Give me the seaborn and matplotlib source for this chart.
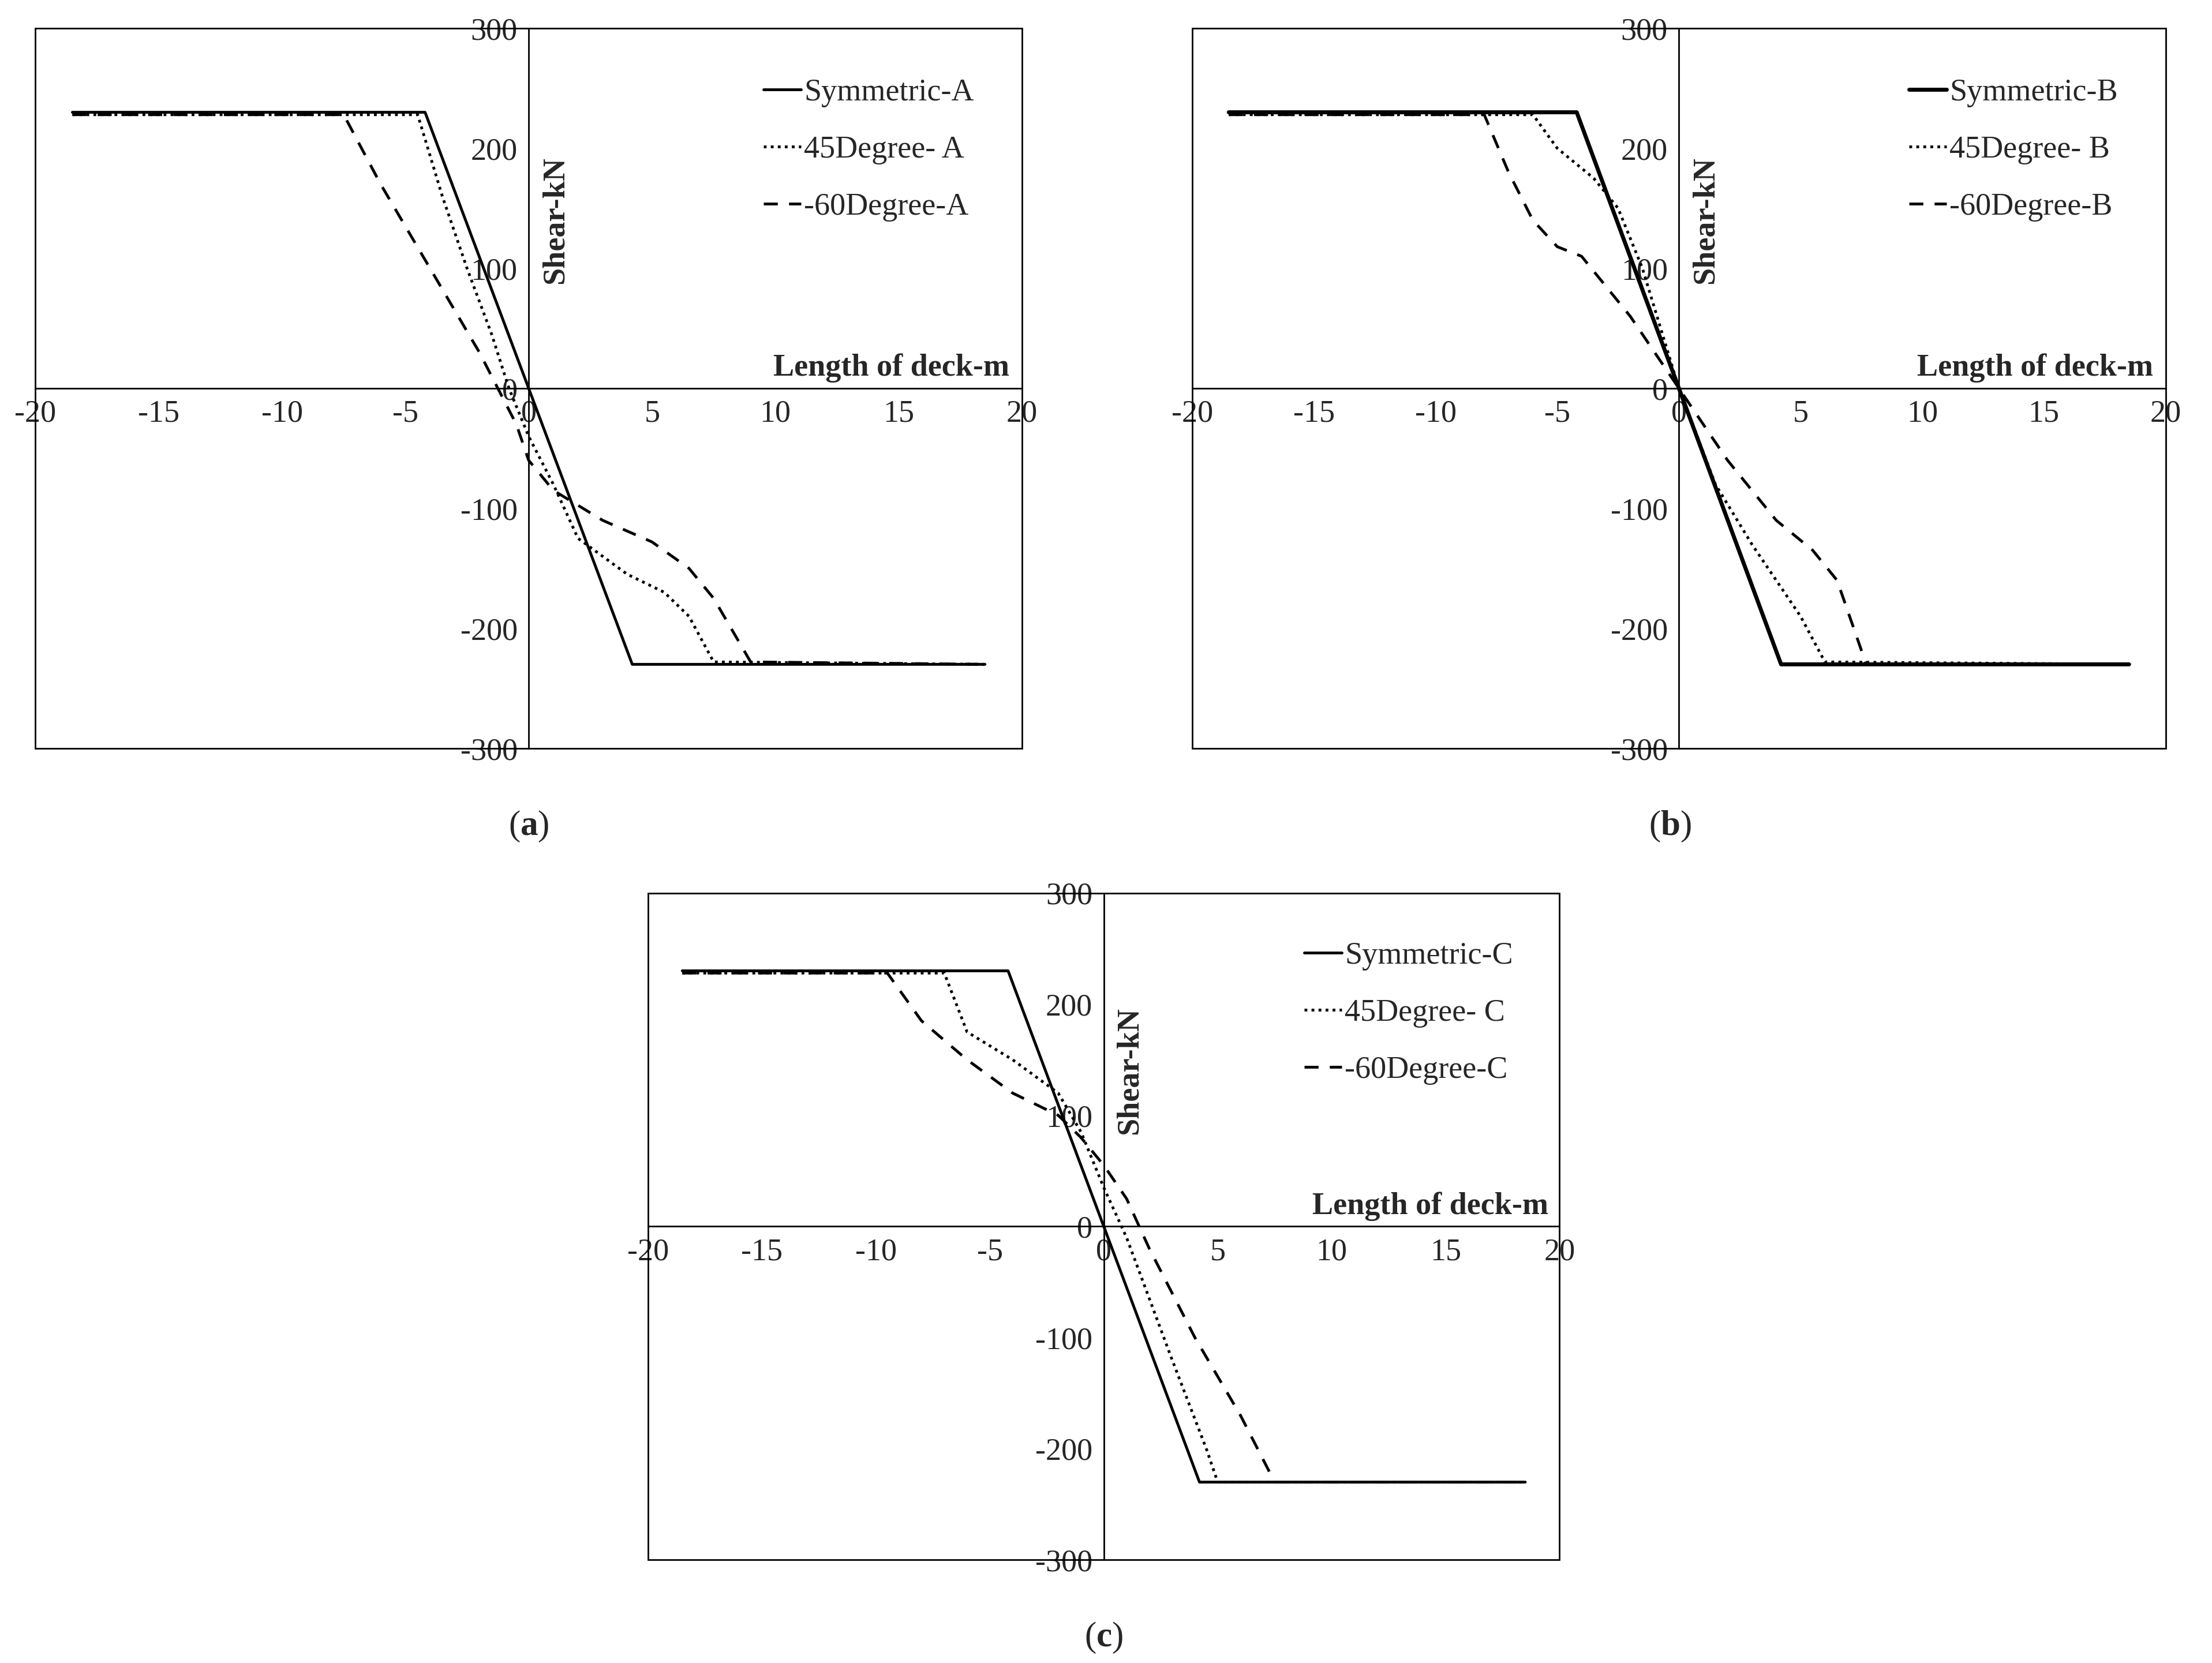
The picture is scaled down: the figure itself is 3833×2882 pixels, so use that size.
import pandas as pd
import matplotlib
matplotlib.use("Agg")
import matplotlib.pyplot as plt
import seaborn as sns
from matplotlib.patches import Rectangle

sns.set_style("white")
plt.rcParams["font.family"] = ["Liberation Serif", "DejaVu Serif"]
plt.rcParams["mathtext.fontset"] = "custom"
plt.rcParams["mathtext.bf"] = "Liberation Serif:bold"
plt.rcParams["mathtext.rm"] = "Liberation Serif"
plt.rcParams["axes.unicode_minus"] = False

# Shear along deck (x in m, shear in kN)
sym_x = [-18.5, -4.2, 4.2, 18.5]
sym_y = [230, 230, -230, -230]

a45_x = [-18.5, -4.5, -3.5, -2.5, -1.5, -0.8, 0, 1, 2, 4, 5.5, 6.5, 7.5, 18.5]
a45_y = [228, 228, 160, 100, 45, 0, -40, -80, -125, -155, -170, -190, -228, -230]
a60_x = [-18.5, -7.5, -6, -4, -2, -0.5, 0, 1, 3, 5, 6.5, 7.5, 9, 18.5]
a60_y = [228, 228, 170, 100, 30, -30, -60, -85, -110, -128, -150, -175, -228, -230]

b45_x = [-18.5, -6, -5, -3.5, -2.5, -1.5, 0, 1.5, 3, 4, 5, 6, 18.5]
b45_y = [228, 228, 200, 175, 150, 100, 0, -80, -130, -160, -190, -228, -230]
b60_x = [-18.5, -8, -7, -6, -5, -4, -2, 0, 2, 4, 5.5, 6.5, 7.7, 18.5]
b60_y = [228, 228, 180, 140, 118, 110, 60, 0, -60, -110, -135, -160, -230, -230]

c45_x = [-18.5, -7, -6, -4, -2, -1, 0, 1, 2, 3, 4.5, 5, 18.5]
c45_y = [228, 228, 175, 150, 120, 85, 35, -10, -65, -120, -200, -230, -230]
c60_x = [-18.5, -9.5, -8, -6, -4, -2, -1, 0, 1, 2, 4, 6, 7.5, 18.5]
c60_y = [228, 228, 185, 150, 120, 100, 80, 55, 25, -20, -100, -170, -230, -230]

panels = [
    ("A", a45_x, a45_y, a60_x, a60_y, [0.016, 0.55, 0.446, 0.433], "a", (0.239, 0.503), 3.5),
    ("B", b45_x, b45_y, b60_x, b60_y, [0.539, 0.55, 0.440, 0.433], "b", (0.755, 0.503), 5),
    ("C", c45_x, c45_y, c60_x, c60_y, [0.293, 0.062, 0.412, 0.401], "c", (0.499, 0.015), 3.5),
]

fig = plt.figure(figsize=(38.33, 28.82), dpi=100)
fs = 39
lw = 3.5

for name, x45, y45, x60, y60, rect, lab, labpos, slw in panels:
    ax = fig.add_axes(rect)
    sns.lineplot(x=sym_x, y=sym_y, ax=ax, color="black", lw=slw, sort=False,
                 label=f"Symmetric-{name}")
    sns.lineplot(x=x45, y=y45, ax=ax, color="black", lw=lw, sort=False,
                 linestyle=(0, (1, 1.5)), label=f"45Degree- {name}")
    sns.lineplot(x=x60, y=y60, ax=ax, color="black", lw=lw, sort=False,
                 linestyle=(0, (5, 4)), label=f"-60Degree-{name}")
    ax.set_xlim(-20, 20)
    ax.set_ylim(-300, 300)
    ax.set_xticks(range(-20, 21, 5))
    ax.set_yticks(range(-300, 301, 100))
    ax.spines["left"].set_position(("data", 0))
    ax.spines["bottom"].set_position(("data", 0))
    ax.spines["top"].set_visible(False)
    ax.spines["right"].set_visible(False)
    for s in ["left", "bottom"]:
        ax.spines[s].set_color("black")
        ax.spines[s].set_linewidth(2)
    ax.add_patch(Rectangle((0, 0), 1, 1, transform=ax.transAxes, fill=False,
                           edgecolor="black", lw=2, clip_on=False))
    ax.tick_params(labelsize=fs, length=0, pad=14)
    ax.text(0.5, 140, "Shear-kN", rotation=90, fontsize=fs, fontweight="bold",
            ha="left", va="center")
    ax.text(19.5, 5, "Length of deck-m", fontsize=fs, fontweight="bold",
            ha="right", va="bottom")
    ax.legend(loc="upper right", bbox_to_anchor=(0.98, 0.97), frameon=False,
              fontsize=fs, handlelength=1.2, handletextpad=0.1, labelspacing=0.9)
    fig.text(labpos[0], labpos[1], f"($\\mathbf{{{lab}}}$)", fontsize=44,
             ha="center", va="center")

fig.savefig("out.png", dpi=100, facecolor="white")
